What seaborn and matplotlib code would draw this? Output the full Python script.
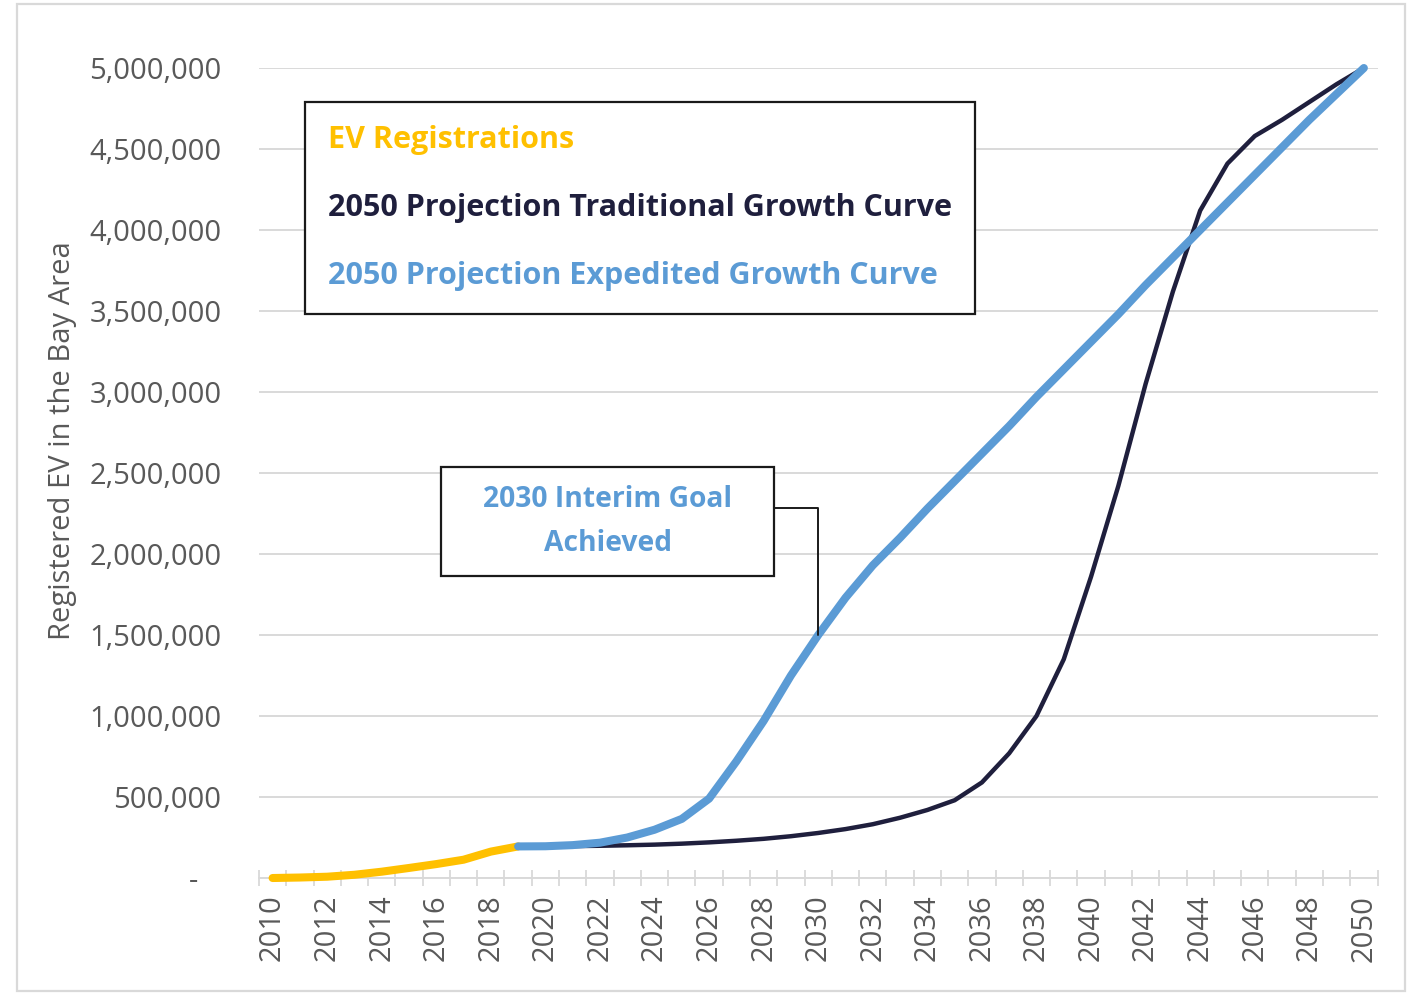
import numpy as np
import pandas as pd
import matplotlib.pyplot as plt
import matplotlib.ticker as mticker
from matplotlib.patches import Rectangle
import seaborn as sns

# data (registered EVs, Bay Area)
years_actual = list(range(2010, 2020))
ev_registrations = [0, 3000, 8000, 20000, 39000, 62000, 86000, 113000, 163000, 195000]

years_proj = list(range(2019, 2051))
traditional = [195000, 196000, 197000, 199000, 202000, 206000, 212000, 220000,
               230000, 242000, 258000, 278000, 302000, 332000, 372000, 420000,
               480000, 590000, 770000, 1000000, 1350000, 1860000, 2420000, 3050000,
               3620000, 4120000, 4410000, 4580000, 4680000, 4790000, 4900000, 5000000]
expedited = [195000, 196000, 203000, 218000, 250000, 298000, 365000, 490000,
             720000, 970000, 1250000, 1500000, 1730000, 1930000, 2100000, 2280000,
             2450000, 2620000, 2790000, 2970000, 3140000, 3310000, 3480000, 3660000,
             3830000, 4000000, 4170000, 4340000, 4510000, 4680000, 4840000, 5000000]

series_labels = ['EV Registrations',
                 '2050 Projection Traditional Growth Curve',
                 '2050 Projection Expedited Growth Curve']
goal_year = 2030
goal_text = '2030 Interim Goal\nAchieved'
y_label = 'Registered EV in the Bay Area'

YELLOW = '#FFC000'
NAVY = '#1F1F3D'
BLUE = '#5B9BD5'
GRID = '#d9d9d9'
TEXT = '#595959'

sns.set_theme(style='white')
plt.rcParams['font.family'] = ['Open Sans', 'DejaVu Sans']

fig = plt.figure(figsize=(14.15, 9.93), dpi=100)
ax = fig.add_axes([0.183, 0.1158, 0.7905, 0.8157])

sns.lineplot(x=years_actual, y=ev_registrations, color=YELLOW, linewidth=5.8,
             label=series_labels[0], ax=ax, clip_on=False, solid_capstyle='round', zorder=4)
sns.lineplot(x=years_proj, y=traditional, color=NAVY, linewidth=3.2,
             label=series_labels[1], ax=ax, clip_on=False, solid_capstyle='round', zorder=3)
sns.lineplot(x=years_proj, y=expedited, color=BLUE, linewidth=5.8,
             label=series_labels[2], ax=ax, clip_on=False, solid_capstyle='round', zorder=5)

ax.set_xlim(2009.5, 2050.5)
ax.set_ylim(0, 5000000)

# y axis
ax.yaxis.set_major_locator(mticker.MultipleLocator(500000))
ax.yaxis.set_major_formatter(mticker.FuncFormatter(
    lambda v, p: '-   ' if v == 0 else f'{int(v):,}'))
ax.tick_params(axis='y', length=0, pad=27, labelsize=21, labelcolor=TEXT)
ax.grid(axis='y', color=GRID, linewidth=1.4)
ax.set_ylabel(y_label, fontsize=21, color=TEXT)
ax.yaxis.set_label_coords(-0.163, 0.54)

# x axis: labels every 2 years, tick marks between categories
ax.xaxis.set_major_locator(mticker.MultipleLocator(2))
ax.xaxis.set_major_formatter(mticker.FuncFormatter(lambda v, p: f'{int(v)}'))
ax.xaxis.set_minor_locator(mticker.FixedLocator(np.arange(2009.5, 2051, 1)))
ax.tick_params(axis='x', which='major', length=0, pad=12, labelsize=21,
               labelcolor=TEXT, labelrotation=90)
ax.tick_params(axis='x', which='minor', bottom=True, direction='inout',
               length=12, width=1.3, color=GRID)
ax.set_xlabel('')

for side in ['top', 'right', 'left']:
    ax.spines[side].set_visible(False)
ax.spines['bottom'].set_color(GRID)
ax.spines['bottom'].set_linewidth(1.4)

# legend with coloured text only
leg = ax.legend(loc='upper left', bbox_to_anchor=(0.041, 0.958), borderaxespad=0,
                handlelength=0, handletextpad=0, labelcolor='linecolor',
                prop={'family': 'Open Sans', 'weight': 'bold', 'size': 22},
                frameon=True, fancybox=False, framealpha=1, edgecolor='#1a1a1a',
                borderpad=0.75, labelspacing=1.25)
leg.get_frame().set_linewidth(1.6)
for h in leg.legend_handles:
    h.set_visible(False)

# interim goal callout
goal_val = expedited[years_proj.index(goal_year)]
box_x0, box_x1 = 2016.18, 2028.39
box_y0, box_y1 = 1864000, 2537000
ax.add_patch(Rectangle((box_x0, box_y0), box_x1 - box_x0, box_y1 - box_y0,
                       facecolor='white', edgecolor='#1a1a1a', linewidth=1.6, zorder=6))
ax.text((box_x0 + box_x1) / 2, (box_y0 + box_y1) / 2, goal_text, ha='center',
        va='center', fontsize=20.3, fontweight='bold', color=BLUE, linespacing=1.7, zorder=7)
ax.annotate('', xy=(goal_year, goal_val), xytext=(box_x1, 2284000),
            arrowprops=dict(arrowstyle='-', color='#1a1a1a', linewidth=1.4,
                            connectionstyle='angle,angleA=0,angleB=90,rad=0',
                            shrinkA=0, shrinkB=0), zorder=6)

# light outer border
fig.add_artist(Rectangle((0.012, 0.002), 0.981, 0.994, transform=fig.transFigure,
                         fill=False, edgecolor=GRID, linewidth=1.6))

fig.savefig('out.png', dpi=100)
